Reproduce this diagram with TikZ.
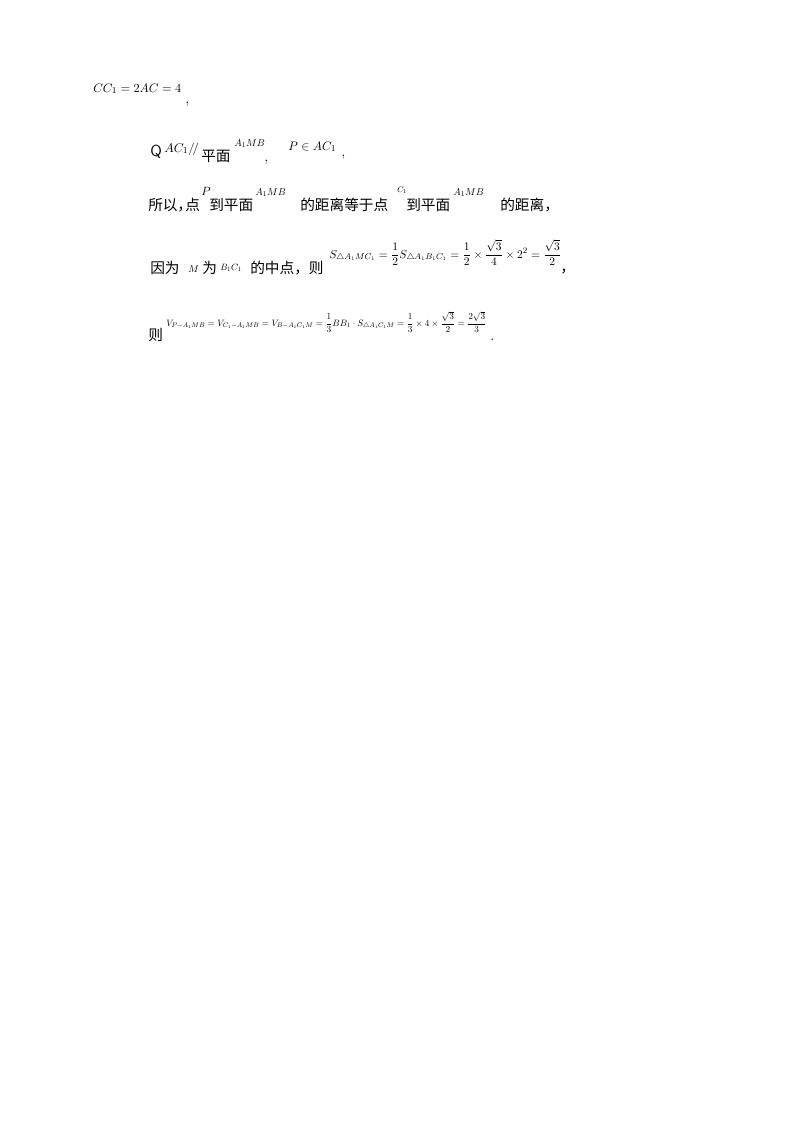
\documentclass[tikz,border=0pt]{standalone}
\usepackage{fontspec}
\usepackage{amsmath}
\usepackage{graphicx}
\newfontfamily\cjk{Noto Sans CJK SC}
\begin{document}
\begin{tikzpicture}[x=0.75pt,y=-0.75pt,every node/.style={inner sep=0pt,anchor=base west,font=\fontsize{11}{13}\selectfont}]
\useasboundingbox (0,0) rectangle (800,1132);
\node (l1) at (93,92) {\resizebox{66pt}{!}{$CC_1=2AC=4$}};
\node (c1) at (185,103) {,};
\node (q) at (150,156) {\sffamily\large Q};
\node (l2a) at (164,152) {\resizebox{26pt}{!}{$AC_1/\!/$}};
\node (l2b) at (201,161) {\cjk 平面};
\node (l2c) at (234,146) {\resizebox{23pt}{!}{$A_1MB$}};
\node (l2d) at (264,161) {,};
\node (l2e) at (288,150) {\resizebox{36pt}{!}{$P\in AC_1$}};
\node (l2f) at (341,156) {,};
\node (l3a) at (148,210) {\cjk 所以};
\node (l3a2) at (177,210) {\cjk\makebox[6pt][l]{，}};
\node (l3a3) at (185,210) {\cjk 点};
\node (l3b) at (201,195) {\resizebox{7pt}{!}{$P$}};
\node (l3c) at (209,210) {\cjk 到平面};
\node (l3d) at (255,195) {\resizebox{23pt}{!}{$A_1MB$}};
\node (l3e) at (300,210) {\cjk 的距离等于点};
\node (l3f) at (397,192) {\resizebox{7pt}{!}{$C_1$}};
\node (l3g) at (406,210) {\cjk 到平面};
\node (l3h) at (453,195) {\resizebox{23pt}{!}{$A_1MB$}};
\node (l3i) at (500,210) {\cjk 的距离，};
\node (l4a) at (150,273) {\cjk 因为};
\node (l4b) at (188,272) {\resizebox{8pt}{!}{$M$}};
\node (l4c) at (202,273) {\cjk 为};
\node (l4d) at (220,270) {\resizebox{16pt}{!}{$B_1C_1$}};
\node (l4e) at (250,273) {\cjk 的中点，则};
\node (l4f) at (329,258) {\resizebox{174pt}{!}{$S_{\triangle A_1MC_1}=\dfrac12S_{\triangle A_1B_1C_1}=\dfrac12\times\dfrac{\sqrt3}{4}\times2^2=\dfrac{\sqrt3}{2}$}};
\node (l4g) at (560,272) {\cjk ，};
\node (l5a) at (148,340) {\cjk 则};
\node (l5b) at (166,326) {\resizebox{240pt}{!}{$V_{P-A_1MB}=V_{C_1-A_1MB}=V_{B-A_1C_1M}=\dfrac13BB_1\cdot S_{\triangle A_1C_1M}=\dfrac13\times4\times\dfrac{\sqrt3}{2}=\dfrac{2\sqrt3}{3}$}};
\node (l5c) at (490,340) {.};
\end{tikzpicture}
\end{document}
